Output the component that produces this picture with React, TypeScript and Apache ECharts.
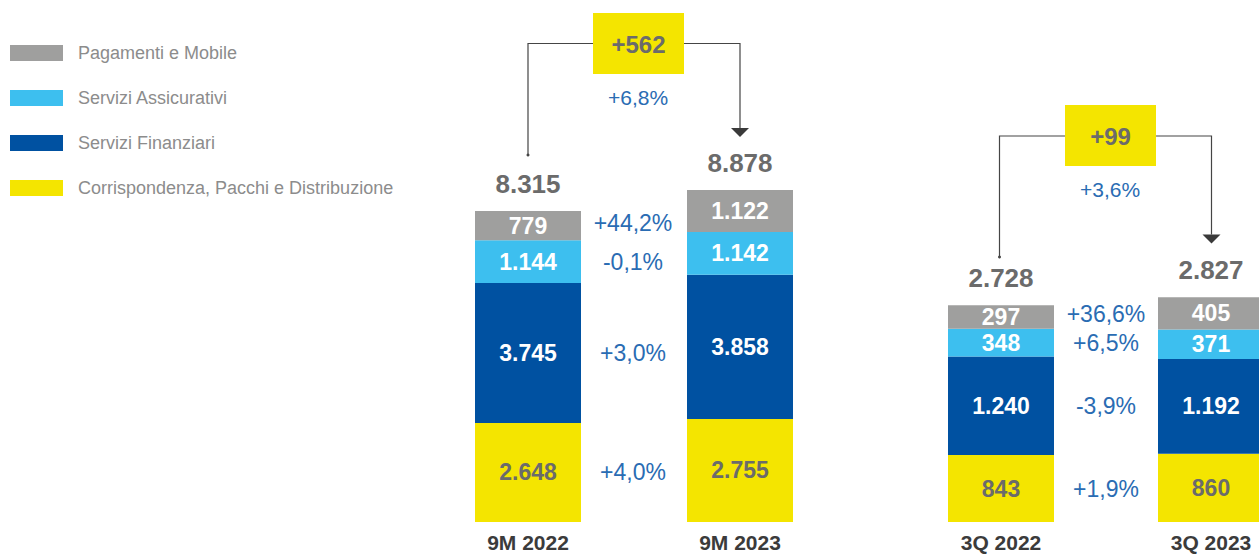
import React, { useEffect, useRef } from "react";
import * as echarts from "echarts";

const FONT = "'Liberation Sans', Arial, Helvetica, sans-serif";

// Categories
const categories9M = ["9M 2022", "9M 2023"];
const categories3Q = ["3Q 2022", "3Q 2023"];

// Series names (stack order, bottom to top)
const seriesNames = [
  "Corrispondenza, Pacchi e Distribuzione",
  "Servizi Finanziari",
  "Servizi Assicurativi",
  "Pagamenti e Mobile",
];
const legendOrder = [
  "Pagamenti e Mobile",
  "Servizi Assicurativi",
  "Servizi Finanziari",
  "Corrispondenza, Pacchi e Distribuzione",
];
const colors = ["#f4e500", "#0051a1", "#3dbfef", "#9f9f9e"];
const labelColors = ["#6b6b6b", "#ffffff", "#ffffff", "#ffffff"];

// 9M values
const corrispondenza9M = [2648, 2755];
const finanziari9M = [3745, 3858];
const assicurativi9M = [1144, 1142];
const pagamenti9M = [779, 1122];
const totals9M = [8315, 8878];
const change9M = [4.0, 3.0, -0.1, 44.2];
const delta9M = 562;
const deltaPct9M = 6.8;

// 3Q values
const corrispondenza3Q = [843, 860];
const finanziari3Q = [1240, 1192];
const assicurativi3Q = [348, 371];
const pagamenti3Q = [297, 405];
const totals3Q = [2728, 2827];
const change3Q = [1.9, -3.9, 6.5, 36.6];
const delta3Q = 99;
const deltaPct3Q = 3.6;

const fmt = (v: number) => String(v).replace(/\B(?=(\d{3})+(?!\d))/g, ".");
const fmtPct = (v: number) =>
  (v >= 0 ? "+" : "-") + Math.abs(v).toFixed(1).replace(".", ",") + "%";

export default function App() {
  const ref = useRef<HTMLDivElement>(null);

  useEffect(() => {
    if (!ref.current) return;
    const chart = echarts.init(ref.current, null, { renderer: "svg" });

    const groups = [
      {
        values: [corrispondenza9M, finanziari9M, assicurativi9M, pagamenti9M],
        totals: totals9M,
        change: change9M,
      },
      {
        values: [corrispondenza3Q, finanziari3Q, assicurativi3Q, pagamenti3Q],
        totals: totals3Q,
        change: change3Q,
      },
    ];

    const series: any[] = [];
    groups.forEach((g, gi) => {
      g.values.forEach((vals, si) => {
        series.push({
          type: "bar",
          name: seriesNames[si],
          xAxisIndex: gi,
          yAxisIndex: gi,
          stack: "main" + gi,
          barWidth: 106,
          barGap: "-100%",
          silent: true,
          emphasis: { disabled: true },
          itemStyle: { color: colors[si] },
          data: vals,
          label: {
            show: true,
            position: "inside",
            formatter: (p: any) => fmt(p.value),
            color: labelColors[si],
            fontSize: 23,
            fontWeight: "bold",
            fontFamily: FONT,
          },
        });
      });
      // percent change labels beside the first bar
      g.values.forEach((vals, si) => {
        series.push({
          type: "bar",
          name: "pct" + gi + "_" + si,
          xAxisIndex: gi,
          yAxisIndex: gi,
          stack: "pct" + gi,
          barWidth: 106,
          barGap: "-100%",
          silent: true,
          emphasis: { disabled: true },
          itemStyle: { color: "rgba(0,0,0,0)" },
          data: [vals[0], "-"],
          label: {
            show: true,
            position: [158, "50%"],
            offset: [0, si === 3 ? -3 : 0],
            align: "center",
            verticalAlign: "middle",
            formatter: () => fmtPct(g.change[si]),
            color: "#2a6cb3",
            fontSize: 23,
            fontFamily: FONT,
          },
        });
      });
      // totals above bars
      series.push({
        type: "bar",
        name: "tot" + gi,
        xAxisIndex: gi,
        yAxisIndex: gi,
        barWidth: 106,
        barGap: "-100%",
        silent: true,
        emphasis: { disabled: true },
        itemStyle: { color: "rgba(0,0,0,0)" },
        data: g.totals,
        label: {
          show: true,
          position: "top",
          distance: 14,
          formatter: (p: any) => fmt(p.value),
          color: "#6b6b6b",
          fontSize: 26,
          fontWeight: "bold",
          fontFamily: FONT,
        },
      });
    });

    const lineStyle = { stroke: "#454545", lineWidth: 1.2, fill: "none" };
    const connector = (
      xl: number,
      xr: number,
      yLine: number,
      yLeftBottom: number,
      yArrow: number,
      boxX: number,
      boxY: number,
      delta: number,
      pct: number
    ) => [
      {
        type: "polyline",
        shape: { points: [[xl, yLeftBottom], [xl, yLine], [boxX, yLine]] },
        style: lineStyle,
        silent: true,
      },
      {
        type: "polyline",
        shape: { points: [[boxX + 91, yLine], [xr, yLine], [xr, yArrow]] },
        style: lineStyle,
        silent: true,
      },
      {
        type: "polygon",
        shape: { points: [[xr - 9, yArrow], [xr + 9, yArrow], [xr, yArrow + 9]] },
        style: { fill: "#3a3a3a" },
        silent: true,
      },
      {
        type: "circle",
        shape: { cx: xl, cy: yLeftBottom, r: 1.5 },
        style: { fill: "#454545" },
        silent: true,
      },
      {
        type: "rect",
        shape: { x: boxX, y: boxY, width: 91, height: 61 },
        style: { fill: "#f4e500" },
        silent: true,
      },
      {
        type: "text",
        x: boxX + 45.5,
        y: boxY + 31,
        style: {
          text: "+" + fmt(delta),
          align: "center",
          verticalAlign: "middle",
          textAlign: "center",
          textVerticalAlign: "middle",
          fill: "#6b6b6b",
          font: "bold 24px " + FONT,
        },
        silent: true,
      },
      {
        type: "text",
        x: boxX + 45,
        y: boxY + 84,
        style: {
          text: fmtPct(pct),
          align: "center",
          verticalAlign: "middle",
          textAlign: "center",
          textVerticalAlign: "middle",
          fill: "#2a6cb3",
          font: "21px " + FONT,
        },
        silent: true,
      },
    ];

    const option: any = {
      animation: false,
      legend: {
        data: legendOrder,
        orient: "vertical",
        left: 10,
        top: 44,
        padding: 0,
        itemWidth: 53,
        itemHeight: 16,
        itemGap: 27,
        icon: "rect",
        selectedMode: false,
        textStyle: {
          fontSize: 18,
          color: "#8c8c8c",
          fontFamily: FONT,
          padding: [0, 0, 0, 10],
          lineHeight: 16,
        },
      },
      grid: [
        { left: 528, width: 212, top: 0, bottom: 34 },
        { left: 1001, width: 210, top: 0, bottom: 34 },
      ],
      xAxis: [categories9M, categories3Q].map((cats, i) => ({
        type: "category",
        gridIndex: i,
        data: cats,
        boundaryGap: false,
        axisLine: { show: false },
        axisTick: { show: false },
        splitLine: { show: false },
        axisLabel: {
          interval: 0,
          margin: 10,
          fontSize: 21,
          fontWeight: "bold",
          color: "#3b3b3b",
          fontFamily: FONT,
        },
      })),
      yAxis: [13960, 6570].map((mx, i) => ({
        type: "value",
        gridIndex: i,
        min: 0,
        max: mx,
        show: false,
        splitLine: { show: false },
      })),
      series,
      graphic: [
        ...connector(528, 740, 43.5, 155, 128, 593, 13, delta9M, deltaPct9M),
        ...connector(999.5, 1211.5, 136, 257, 234.5, 1065, 105, delta3Q, deltaPct3Q),
      ],
    };

    chart.setOption(option);
    return () => chart.dispose();
  }, []);

  return (
    <div
      ref={ref}
      style={{ position: "absolute", left: 0, top: 0, width: 1259, height: 556, background: "#fff" }}
    />
  );
}
